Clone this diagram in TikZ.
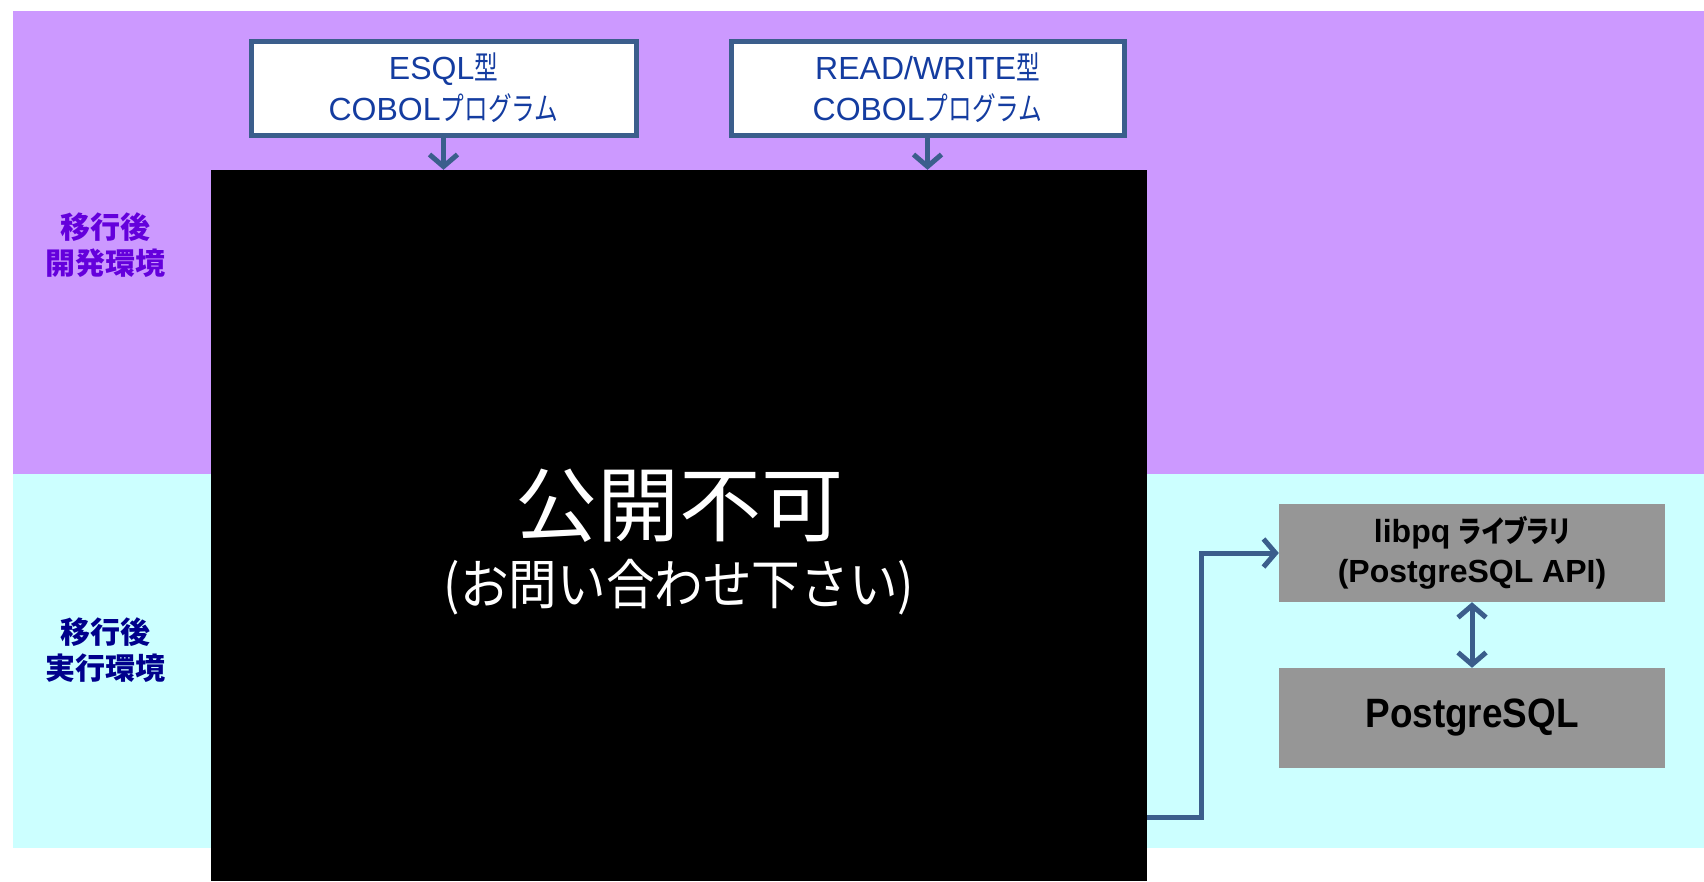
\documentclass[tikz,border=0pt]{standalone}
\usepackage{fontspec}
\usepackage{graphicx}
\setmainfont{Liberation Sans}
\newfontfamily\jp{Noto Sans CJK JP}
\newfontfamily\jpp[RawFeature=+palt]{Noto Sans CJK JP}
\usetikzlibrary{arrows.meta}
\definecolor{bandpurple}{RGB}{204,153,255}
\definecolor{bandcyan}{RGB}{204,255,255}
\definecolor{lineblue}{RGB}{59,94,140}
\definecolor{textblue}{RGB}{20,60,160}
\definecolor{labpurple}{RGB}{100,0,220}
\definecolor{labnavy}{RGB}{0,0,140}
\definecolor{boxgray}{RGB}{150,150,150}
\newcommand{\jsmall}[1]{{\jp\fontsize{32}{41}\selectfont\scalebox{0.74}[1]{#1}}}
\begin{document}
\begin{tikzpicture}[x=1pt,y=-1pt,
  cobolbox/.style={draw=lineblue,line width=5pt,fill=white,inner sep=0pt,
    minimum height=94pt,align=center,text=textblue,
    font=\fontsize{32}{41}\selectfont},
  graybox/.style={draw=none,fill=boxgray,inner sep=0pt,minimum width=386pt,
    minimum height=98pt,align=center,text=black},
  envlabel/.style={align=center,font=\jp\bfseries\fontsize{30}{36}\selectfont},
  conn/.style={draw=lineblue,line width=5pt,-{Straight Barb[length=12pt,width=28pt]}},
  dconn/.style={draw=lineblue,line width=5pt,{Straight Barb[length=12pt,width=28pt]}-{Straight Barb[length=12pt,width=28pt]}}
]
\useasboundingbox (0,0) rectangle (1704,881);
\fill[white] (0,0) rectangle (1704,881);
% bands
\fill[bandpurple] (13,11) rectangle (1704,474);
\fill[bandcyan] (13,474) rectangle (1704,848);
% side labels
\node[envlabel,text=labpurple] (devlab) at (105,245) {移行後\\開発環境};
\node[envlabel,text=labnavy] (runlab) at (105,650) {移行後\\実行環境};
% program boxes
\node[cobolbox,minimum width=385pt] (esql) at (443.5,88)
  {ESQL\jsmall{型}\\COBOL\jsmall{プログラム}};
\node[cobolbox,minimum width=393pt] (rw) at (927.5,88)
  {READ/WRITE\jsmall{型}\\COBOL\jsmall{プログラム}};
% black box
\node[fill=black,draw=none,inner sep=0pt,minimum width=936pt,minimum height=711pt] (blk) at (679,525.5) {};
\node[text=white,font=\jp\fontsize{82}{90}\selectfont,inner sep=0pt] (t1) at (679,506) {公開不可};
\node[text=white,font=\jp\fontsize{54}{60}\selectfont,inner sep=0pt] (t2) at (679,587)
  {\scalebox{0.9}[1]{(お問い合わせ下さい)}};
% right boxes
\node[graybox,font=\bfseries\fontsize{32}{40}\selectfont] (libpq) at (1472,553)
  {\raisebox{-4pt}{libpq {\jpp\bfseries\fontsize{30}{40}\selectfont\scalebox{0.82}[1]{ライブラリ}}}\\
   \raisebox{-4pt}{(PostgreSQL API)}};
\node[graybox,minimum height=100pt] (pg) at (1472,718)
  {\fontsize{41}{44}\selectfont\bfseries\raisebox{-5pt}{\scalebox{0.9}[1]{PostgreSQL}}};
% connectors
\draw[conn] (esql.south) -- (esql.south |- blk.north);
\draw[conn] (rw.south) -- (rw.south |- blk.north);
\draw[dconn] (libpq.south) -- (pg.north);
\coordinate (src) at (1147,817);
\draw[conn] (src) -- (1201,817) -- (1201,553) -- (libpq.west);
\end{tikzpicture}
\end{document}
